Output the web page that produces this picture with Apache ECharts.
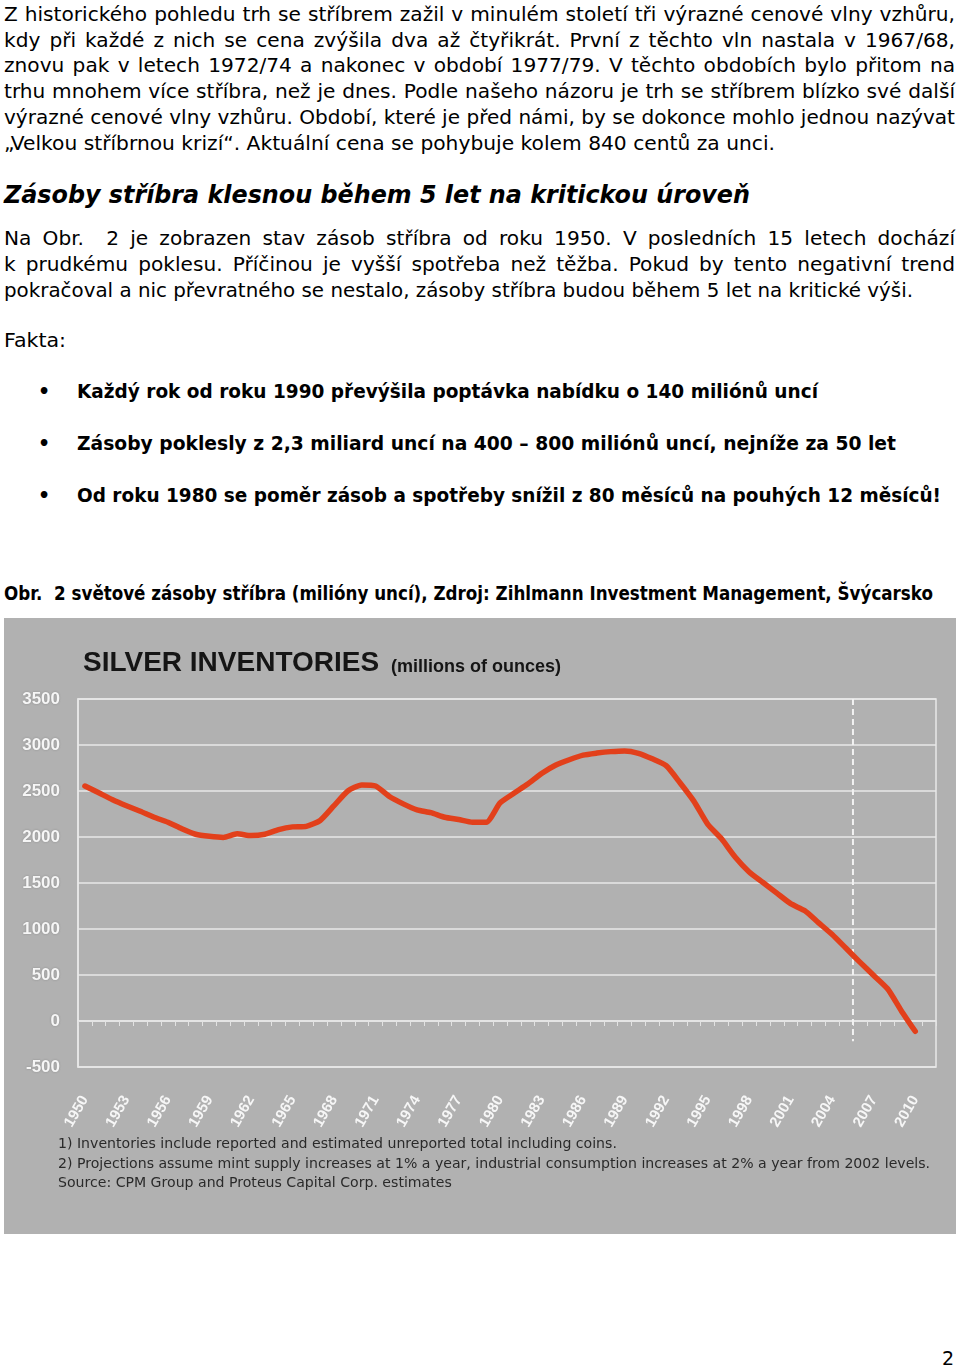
<!DOCTYPE html>
<html>
<head>
<meta charset="utf-8">
<script src="https://cdn.jsdelivr.net/npm/echarts@6/dist/echarts.min.js"></script>
<style>
  html, body { margin: 0; padding: 0; background: #ffffff; }
  body { width: 960px; height: 1368px; position: relative; overflow: hidden; }
  .t { position: absolute; white-space: pre; font-family: "DejaVu Sans", sans-serif; color: #000; line-height: 1; transform-origin: 0 0; }
  .reg { font-size: 19px; font-weight: normal; }
  .bold { font-size: 19px; font-weight: bold; }
  .h2 { font-size: 24px; font-weight: bold; font-style: italic; }
  #chart { position: absolute; left: 4px; top: 618px; width: 952px; height: 616px; background: #b1b1b1; }
</style>
</head>
<body>
<div id="text"></div>
<div id="chart"></div>
<script>
// ---------- chart data ----------
const years = ['1950','1951','1952','1953','1954','1955','1956','1957','1958','1959',
  '1960','1961','1962','1963','1964','1965','1966','1967','1968','1969',
  '1970','1971','1972','1973','1974','1975','1976','1977','1978','1979',
  '1980','1981','1982','1983','1984','1985','1986','1987','1988','1989',
  '1990','1991','1992','1993','1994','1995','1996','1997','1998','1999',
  '2000','2001','2002','2003','2004','2005','2006','2007','2008','2009',
  '2010','2011'];
const inventories = [2554, 2480, 2405, 2340, 2280, 2215, 2160, 2090, 2030, 2007,
  1995, 2035, 2015, 2030, 2080, 2110, 2116, 2180, 2340, 2500,
  2565, 2554, 2440, 2360, 2295, 2265, 2215, 2190, 2160, 2160,
  2370, 2475, 2575, 2690, 2780, 2840, 2890, 2912, 2928, 2936,
  2910, 2850, 2775, 2590, 2390, 2140, 1980, 1780, 1620, 1505,
  1390, 1275, 1200, 1070, 940, 790, 640, 495, 350, 110,
  -112, null];
const projectionLine = [[2005.5, 3500], [2005.5, -220]];
const yMin = -500, yMax = 3500, yStep = 500;
const chartTitle = 'SILVER INVENTORIES';
const chartUnit = '(millions of ounces)';
const footnotes = [
  '1) Inventories include reported and estimated unreported total including coins.',
  '2) Projections assume mint supply increases at 1% a year, industrial consumption increases at 2% a year from 2002 levels.',
  'Source: CPM Group and Proteus Capital Corp. estimates'
];

// ---------- page text ----------
// [text, class, left, baseline, targetRight, mode]  mode: 'j' justify, 'f' fit width
const lines = [
  ['Z historického pohledu trh se stříbrem zažil v minulém století tři výrazné cenové vlny vzhůru,', 'reg', 4, 21, 955, 'j'],
  ['kdy při každé z nich se cena zvýšila dva až čtyřikrát. První z těchto vln nastala v 1967/68,', 'reg', 4, 47, 955, 'j'],
  ['znovu pak v letech 1972/74 a nakonec v období 1977/79. V těchto obdobích bylo přitom na', 'reg', 4, 72.5, 955, 'j'],
  ['trhu mnohem více stříbra, než je dnes. Podle našeho názoru je trh se stříbrem blízko své další', 'reg', 4, 98.5, 955, 'j'],
  ['výrazné cenové vlny vzhůru. Období, které je před námi, by se dokonce mohlo jednou nazývat', 'reg', 4, 124, 955, 'j'],
  ['„Velkou stříbrnou krizí“. Aktuální cena se pohybuje kolem 840 centů za unci.', 'reg', 4, 150, 775, 'f'],
  ['Zásoby stříbra klesnou během 5 let na kritickou úroveň', 'h2', 4, 203, 750, 'f'],
  ['Na Obr.  2 je zobrazen stav zásob stříbra od roku 1950. V posledních 15 letech dochází', 'reg', 4, 245, 955, 'j'],
  ['k prudkému poklesu. Příčinou je vyšší spotřeba než těžba. Pokud by tento negativní trend', 'reg', 4, 271, 955, 'j'],
  ['pokračoval a nic převratného se nestalo, zásoby stříbra budou během 5 let na kritické výši.', 'reg', 4, 297, 913, 'f'],
  ['Fakta:', 'reg', 4, 347, 66, 'f'],
  ['•', 'bold', 38, 398, 0, ''],
  ['Každý rok od roku 1990 převýšila poptávka nabídku o 140 miliónů uncí', 'bold', 77, 398, 818, 'f'],
  ['•', 'bold', 38, 450, 0, ''],
  ['Zásoby poklesly z 2,3 miliard uncí na 400 – 800 miliónů uncí, nejníže za 50 let', 'bold', 77, 450, 896, 'f'],
  ['•', 'bold', 38, 502, 0, ''],
  ['Od roku 1980 se poměr zásob a spotřeby snížil z 80 měsíců na pouhých 12 měsíců!', 'bold', 77, 502, 941, 'f'],
  ['Obr.  2 světové zásoby stříbra (milióny uncí), Zdroj: Zihlmann Investment Management, Švýcarsko', 'bold', 4, 600, 933, 'f'],
  ['2', 'reg', 942, 1365, 0, '']
];

const holder = document.getElementById('text');
const sizes = { reg: 19, bold: 19, h2: 24 };
lines.forEach(([txt, cls, left, base, right, mode]) => {
  const d = document.createElement('div');
  d.className = 't ' + cls;
  d.textContent = txt;
  d.style.left = left + 'px';
  d.style.top = (base - 0.846 * sizes[cls]) + 'px';
  holder.appendChild(d);
  if (mode) {
    const target = right - left;
    const natural = d.getBoundingClientRect().width;
    let scale = target / natural;
    if (mode === 'j') {
      const spaces = (txt.match(/ /g) || []).length;
      if (scale > 1.06 && spaces) {
        scale = 1.06;
        d.style.wordSpacing = ((target / scale - natural) / spaces) + 'px';
      }
    }
    d.style.transform = 'scaleX(' + scale + ')';
  }
});

// ---------- chart ----------
const chart = echarts.init(document.getElementById('chart'), null, { renderer: 'canvas' });
const white = '#f6f6f6';
chart.setOption({
  backgroundColor: '#b1b1b1',
  animation: false,
  title: [
    { text: chartTitle, left: 79, top: 31, padding: 0,
      textStyle: { fontFamily: 'Liberation Sans, Arial, sans-serif', fontSize: 28, fontWeight: 'bold', color: '#151515', lineHeight: 28 } },
    { text: chartUnit, left: 387, top: 40, padding: 0,
      textStyle: { fontFamily: 'Liberation Sans, Arial, sans-serif', fontSize: 18, fontWeight: 'bold', color: '#151515', lineHeight: 18 } },
    { text: footnotes.join('\n'), left: 54, top: 517, padding: 0,
      textStyle: { fontFamily: 'DejaVu Sans, sans-serif', fontSize: 14.1, fontWeight: 'normal', color: '#2a2a2a', lineHeight: 19.5 } }
  ],
  grid: { left: 74, right: 20, top: 81, bottom: 167, show: true, borderColor: '#e8e8e8', borderWidth: 1.5, backgroundColor: 'transparent' },
  xAxis: [
    { type: 'category', data: years, boundaryGap: true,
      axisLine: { show: true, lineStyle: { color: '#e8e8e8', width: 1.5 } },
      axisTick: { show: true, interval: 0, length: 5, lineStyle: { color: '#e2e2e2', width: 1 } },
      axisLabel: { interval: 2, rotate: 60, margin: 30, color: white,
        fontFamily: 'Liberation Sans, Arial, sans-serif', fontSize: 15, fontWeight: 'bold' },
      splitLine: { show: false } },
    { type: 'value', min: 1949.5, max: 2011.5, show: false, splitLine: { show: false } }
  ],
  yAxis: {
    type: 'value', min: yMin, max: yMax, interval: yStep,
    axisLine: { show: true, lineStyle: { color: '#e8e8e8', width: 1.5 } },
    axisTick: { show: false },
    axisLabel: { margin: 18, color: white, fontFamily: 'Liberation Sans, Arial, sans-serif', fontSize: 17, fontWeight: 'bold',
      formatter: v => String(v),
      textShadowColor: 'rgba(60,60,60,0.35)', textShadowBlur: 2 },
    splitLine: { show: true, lineStyle: { color: '#e8e8e8', width: 1.5 } }
  },
  series: [
    { type: 'line', xAxisIndex: 1, data: projectionLine, showSymbol: false, silent: true,
      lineStyle: { color: '#f2f2f2', width: 2, type: [6, 4] } },
    { type: 'line', xAxisIndex: 0, data: inventories, showSymbol: false, smooth: 0.2,
      lineStyle: { color: '#e2401b', width: 5.5, cap: 'round', join: 'round' } }
  ]
});
</script>
</body>
</html>
